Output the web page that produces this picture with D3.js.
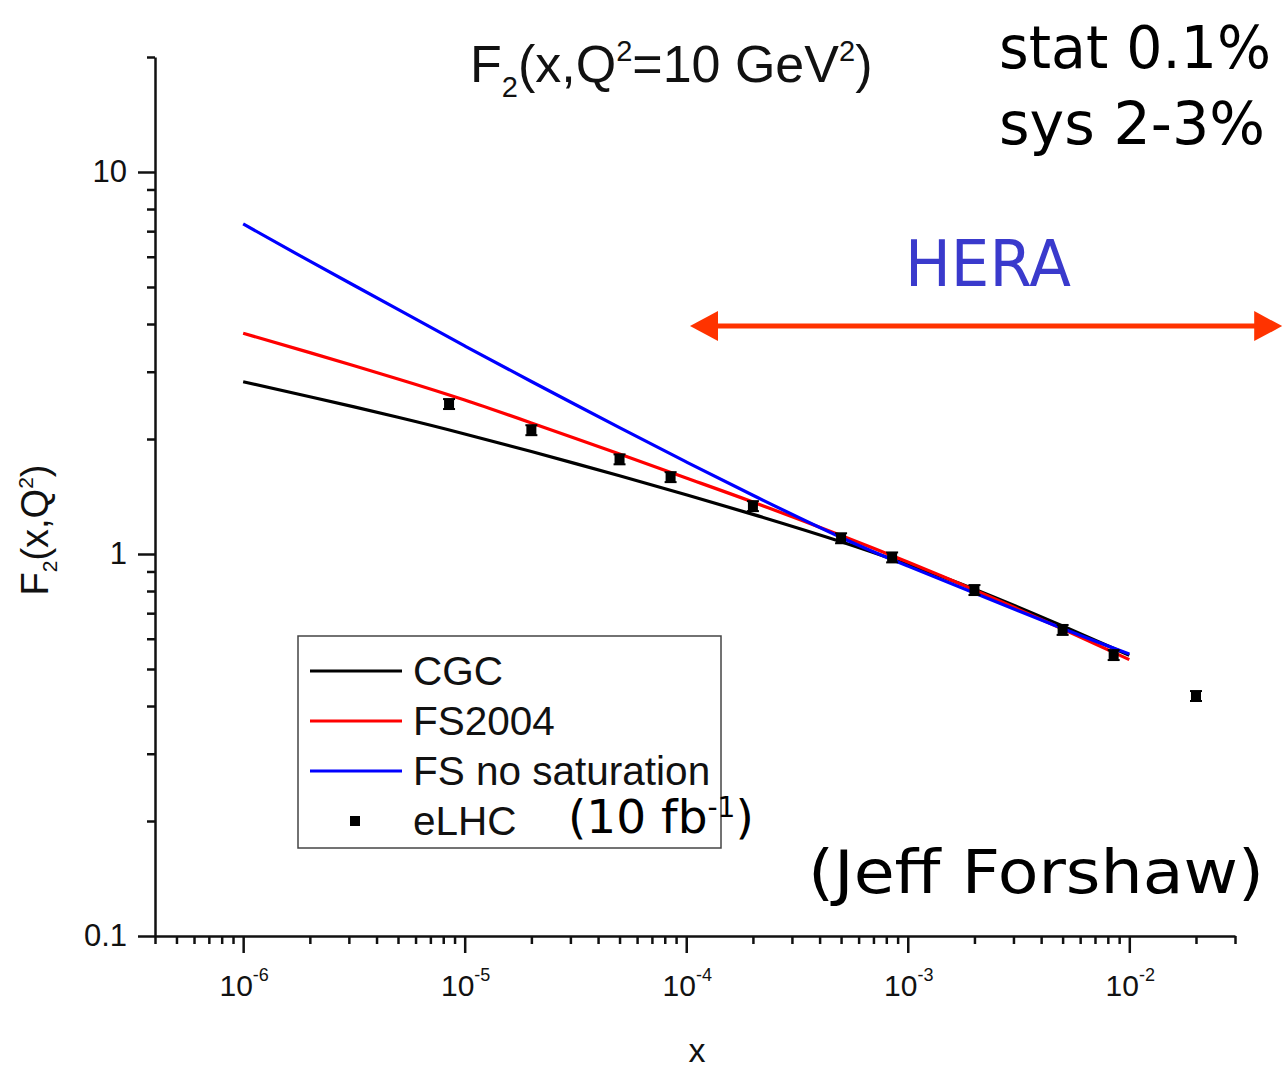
<!DOCTYPE html>
<html>
<head>
<meta charset="utf-8">
<script src="https://cdn.jsdelivr.net/npm/d3@7/dist/d3.min.js"></script>
<style>
  html, body { margin: 0; padding: 0; background: #fff; }
  svg { display: block; }
  .arial { font-family: 'Liberation Sans', Arial, Helvetica, sans-serif; }
  .comic { font-family: 'Comic Sans MS', 'DejaVu Sans', sans-serif; }
</style>
</head>
<body>
<svg id="chart"></svg>
<script>
// model curves, F2 vs x on a common x grid
const xGrid = [1e-6, 2e-6, 5e-6, 1e-5, 2e-5, 5e-5, 1e-4, 2e-4, 5e-4, 1e-3, 2e-3, 5e-3, 1e-2];
const cgc = [2.825, 2.581, 2.280, 2.062, 1.854, 1.602, 1.429, 1.270, 1.077, 0.939, 0.809, 0.648, 0.543];
const fs2004 = [3.783, 3.366, 2.873, 2.530, 2.203, 1.827, 1.581, 1.368, 1.118, 0.953, 0.805, 0.636, 0.529];
const fsNoSat = [7.31, 5.84, 4.37, 3.506, 2.829, 2.142, 1.742, 1.425, 1.105, 0.930, 0.790, 0.638, 0.547];

// eLHC pseudo data (10 fb^-1)
const elhcX = [8.5e-6, 2e-5, 5e-5, 8.5e-5, 2e-4, 5e-4, 8.5e-4, 2e-3, 5e-3, 8.5e-3, 2e-2];
const elhcY = [2.47, 2.11, 1.77, 1.59, 1.335, 1.10, 0.98, 0.805, 0.633, 0.544, 0.425];
const relErr = 0.03;

const seriesNames = ['CGC', 'FS2004', 'FS no saturation'];
const seriesColors = ['#000000', '#ff0000', '#0000ff'];
const xMajor = [1e-6, 1e-5, 1e-4, 1e-3, 1e-2];
const yMajor = [0.1, 1, 10];

// HERA range arrow (x from, x to, F2 level)
const heraRange = [1.04e-4, 4.9e-2];
const heraLevel = 3.95;

const width = 1284;
const height = 1069;

const svg = d3.select('#chart')
    .attr('width', width)
    .attr('height', height)
    .attr('viewBox', [0, 0, width, height]);

const x = d3.scaleLog().domain([4e-7, 3e-2]).range([155, 1235]);
const y = d3.scaleLog().domain([0.1, 20]).range([936, 57]);

// minor ticks: 2..9 times each decade, inside the domain
const minorX = [];
for (let e = -7; e <= -2; e++) {
  for (let k = 2; k <= 9; k++) {
    const v = k * Math.pow(10, e);
    if (v >= 3.99e-7 && v <= 3.01e-2) minorX.push(v);
  }
}
const minorY = [];
for (let e = -1; e <= 1; e++) {
  for (let k = 2; k <= 9; k++) {
    const v = k * Math.pow(10, e);
    if (v <= 20.01) minorY.push(v);
  }
}

const axisColor = '#111';

// x axis
const gx = svg.append('g').attr('transform', `translate(0,${y.range()[0]})`);
gx.append('g')
    .call(d3.axisBottom(x).tickValues(minorX).tickSize(8).tickSizeOuter(0).tickFormat(''))
    .call((g) => g.select('.domain').remove());
gx.append('g')
    .call(d3.axisBottom(x).tickValues(xMajor).tickSize(17).tickSizeOuter(0).tickFormat(''));
gx.selectAll('line').attr('stroke', axisColor).attr('stroke-width', 2.5);
gx.selectAll('.domain').attr('stroke', axisColor).attr('stroke-width', 2.5);

gx.selectAll('g.xlab')
    .data(xMajor)
    .join('text')
    .attr('class', 'arial')
    .attr('x', (d) => x(d) + 1)
    .attr('y', 60)
    .attr('text-anchor', 'middle')
    .attr('font-size', 30)
    .attr('fill', '#111')
    .each(function(d) {
      const t = d3.select(this);
      t.append('tspan').text('10');
      t.append('tspan').attr('font-size', 18).attr('dy', -15).text(Math.round(Math.log10(d)));
    });

// y axis
const gy = svg.append('g').attr('transform', `translate(${x.range()[0]},0)`);
gy.append('g')
    .call(d3.axisLeft(y).tickValues(minorY).tickSize(8).tickSizeOuter(0).tickFormat(''))
    .call((g) => g.select('.domain').remove());
gy.append('g')
    .call(d3.axisLeft(y).tickValues(yMajor).tickSize(17).tickSizeOuter(0)
        .tickFormat((d) => d3.format('~g')(d)))
    .call((g) => g.selectAll('text')
        .attr('class', 'arial')
        .attr('font-size', 31)
        .attr('fill', '#111')
        .attr('x', -28));
gy.selectAll('line').attr('stroke', axisColor).attr('stroke-width', 2.5);
gy.selectAll('.domain').attr('stroke', axisColor).attr('stroke-width', 2.5);

// axis titles
svg.append('text')
    .attr('class', 'arial')
    .attr('x', 697)
    .attr('y', 1062)
    .attr('text-anchor', 'middle')
    .attr('font-size', 34)
    .attr('fill', '#111')
    .text('x');

const yl = svg.append('text')
    .attr('class', 'arial')
    .attr('transform', 'translate(48,530) rotate(-90)')
    .attr('text-anchor', 'middle')
    .attr('font-size', 38)
    .attr('fill', '#111');
yl.append('tspan').text('F');
yl.append('tspan').attr('font-size', 21).attr('dy', 9).text('2');
yl.append('tspan').attr('dy', -9).text('(x,Q');
yl.append('tspan').attr('font-size', 21).attr('dy', -15).text('2');
yl.append('tspan').attr('dy', 15).text(')');

// title
const title = svg.append('text')
    .attr('class', 'arial')
    .attr('x', 470)
    .attr('y', 82)
    .attr('font-size', 52)
    .attr('fill', '#111');
title.append('tspan').text('F');
title.append('tspan').attr('font-size', 29).attr('dy', 15).text('2');
title.append('tspan').attr('dy', -15).text('(x,Q');
title.append('tspan').attr('font-size', 29).attr('dy', -21).text('2');
title.append('tspan').attr('dy', 21).text('=10 GeV');
title.append('tspan').attr('font-size', 29).attr('dy', -21).text('2');
title.append('tspan').attr('dy', 21).text(')');

// model curves
const curves = [cgc, fs2004, fsNoSat].map((vals, i) => ({
  name: seriesNames[i],
  color: seriesColors[i],
  values: vals.map((v, j) => [xGrid[j], v]),
}));

const line = d3.line()
    .curve(d3.curveNatural)
    .x((d) => x(d[0]))
    .y((d) => y(d[1]));

svg.append('g')
    .selectAll('path')
    .data(curves)
    .join('path')
    .attr('fill', 'none')
    .attr('stroke', (d) => d.color)
    .attr('stroke-width', 3.2)
    .attr('d', (d) => line(d.values));

// eLHC points with error bars
const pts = elhcX.map((v, i) => ({x: v, y: elhcY[i]}));
const gp = svg.append('g').attr('fill', '#000').attr('stroke', '#000');
gp.selectAll('line.err')
    .data(pts)
    .join('line')
    .attr('class', 'err')
    .attr('x1', (d) => x(d.x))
    .attr('x2', (d) => x(d.x))
    .attr('y1', (d) => y(d.y * (1 + relErr)))
    .attr('y2', (d) => y(d.y * (1 - relErr)))
    .attr('stroke-width', 2);
gp.selectAll('line.capHi')
    .data(pts)
    .join('line')
    .attr('class', 'capHi')
    .attr('x1', (d) => x(d.x) - 6)
    .attr('x2', (d) => x(d.x) + 6)
    .attr('y1', (d) => y(d.y * (1 + relErr)))
    .attr('y2', (d) => y(d.y * (1 + relErr)))
    .attr('stroke-width', 2);
gp.selectAll('line.capLo')
    .data(pts)
    .join('line')
    .attr('class', 'capLo')
    .attr('x1', (d) => x(d.x) - 6)
    .attr('x2', (d) => x(d.x) + 6)
    .attr('y1', (d) => y(d.y * (1 - relErr)))
    .attr('y2', (d) => y(d.y * (1 - relErr)))
    .attr('stroke-width', 2);
gp.selectAll('rect')
    .data(pts)
    .join('rect')
    .attr('x', (d) => x(d.x) - 5)
    .attr('y', (d) => y(d.y) - 5)
    .attr('width', 10)
    .attr('height', 10)
    .attr('stroke', 'none');

// legend
const legend = svg.append('g').attr('transform', 'translate(298,636)');
legend.append('rect')
    .attr('width', 423)
    .attr('height', 212)
    .attr('fill', '#fff')
    .attr('stroke', '#444')
    .attr('stroke-width', 1.5);
const legItems = legend.selectAll('g.item')
    .data([...curves, {name: 'eLHC', color: '#000', marker: true}])
    .join('g')
    .attr('class', 'item')
    .attr('transform', (d, i) => `translate(0,${35 + i * 50})`);
legItems.filter((d) => !d.marker)
    .append('line')
    .attr('x1', 12)
    .attr('x2', 104)
    .attr('stroke', (d) => d.color)
    .attr('stroke-width', 3.2);
legItems.filter((d) => d.marker)
    .append('rect')
    .attr('x', 52)
    .attr('y', -5)
    .attr('width', 10)
    .attr('height', 10)
    .attr('fill', '#000');
legItems.append('text')
    .attr('class', 'arial')
    .attr('x', 115)
    .attr('y', 14)
    .attr('font-size', 40.5)
    .attr('fill', '#111')
    .text((d) => d.name);

// luminosity note
const lumi = svg.append('text')
    .attr('class', 'comic')
    .attr('x', 568)
    .attr('y', 833)
    .attr('font-size', 47)
    .attr('fill', '#000');
lumi.append('tspan').text('(10 fb');
lumi.append('tspan').attr('font-size', 28).attr('dy', -16).text('-1');
lumi.append('tspan').attr('dy', 16).text(')');

// HERA range
const arrowColor = '#ff3300';
const ga = svg.append('g');
const ay = y(heraLevel);
const ax0 = x(heraRange[0]);
const ax1 = x(heraRange[1]);
ga.append('line')
    .attr('x1', ax0 + 20)
    .attr('x2', ax1 - 20)
    .attr('y1', ay)
    .attr('y2', ay)
    .attr('stroke', arrowColor)
    .attr('stroke-width', 5);
ga.append('path')
    .attr('fill', arrowColor)
    .attr('d', `M${ax0},${ay} L${ax0 + 28},${ay - 15} L${ax0 + 28},${ay + 15} Z`);
ga.append('path')
    .attr('fill', arrowColor)
    .attr('d', `M${ax1},${ay} L${ax1 - 28},${ay - 15} L${ax1 - 28},${ay + 15} Z`);

svg.append('text')
    .attr('class', 'comic')
    .attr('x', 905)
    .attr('y', 286)
    .attr('font-size', 64)
    .attr('fill', '#3a3acc')
    .attr('textLength', 166)
    .attr('lengthAdjust', 'spacingAndGlyphs')
    .text('HERA');

// precision notes
svg.append('text')
    .attr('class', 'comic')
    .attr('x', 999)
    .attr('y', 68)
    .attr('font-size', 58)
    .attr('fill', '#000')
    .attr('textLength', 272)
    .attr('lengthAdjust', 'spacingAndGlyphs')
    .text('stat 0.1%');
svg.append('text')
    .attr('class', 'comic')
    .attr('x', 999)
    .attr('y', 144)
    .attr('font-size', 58)
    .attr('fill', '#000')
    .attr('textLength', 266)
    .attr('lengthAdjust', 'spacingAndGlyphs')
    .text('sys 2-3%');

svg.append('text')
    .attr('class', 'comic')
    .attr('x', 808)
    .attr('y', 893)
    .attr('font-size', 60)
    .attr('fill', '#000')
    .attr('textLength', 456)
    .attr('lengthAdjust', 'spacingAndGlyphs')
    .text('(Jeff Forshaw)');
</script>
</body>
</html>
